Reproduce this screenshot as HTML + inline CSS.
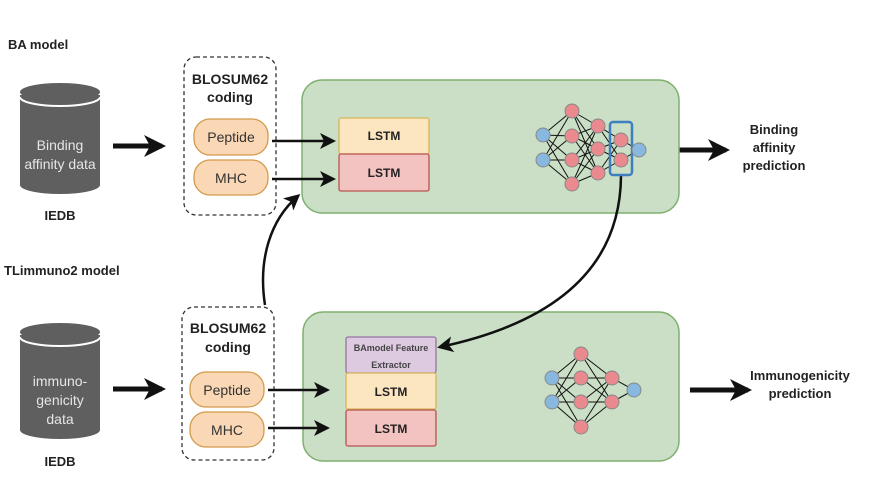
<!DOCTYPE html>
<html><head><meta charset="utf-8"><style>
html,body{margin:0;padding:0;background:#fff}
svg{display:block}
text{font-family:"Liberation Sans",sans-serif}
</style></head><body>
<svg width="875" height="478" viewBox="0 0 875 478" xmlns="http://www.w3.org/2000/svg">
<defs>
<marker id="ah" markerWidth="10" markerHeight="10" refX="7" refY="5" orient="auto" markerUnits="userSpaceOnUse"><path d="M0,0 L10,5 L0,10 L3,5 z" fill="#111"/></marker>
<marker id="ahb" markerWidth="22" markerHeight="22" refX="18" refY="11" orient="auto" markerUnits="userSpaceOnUse"><path d="M0,0 L22,11 L0,22 L6,11 z" fill="#111"/></marker>
<marker id="ahm" markerWidth="16" markerHeight="16" refX="13" refY="8" orient="auto" markerUnits="userSpaceOnUse"><path d="M0,0 L16,8 L0,16 L4,8 z" fill="#111"/></marker>
</defs>

<!-- labels -->
<text x="8" y="49" font-size="13" font-weight="bold" fill="#222">BA model</text>
<text x="4" y="275" font-size="13" font-weight="bold" fill="#222">TLimmuno2 model</text>

<!-- cylinders -->
<g fill="#5f5f5f">
<path d="M20,95 L20,185 A40,9 0 0 0 100,185 L100,95 z"/>
<ellipse cx="60" cy="92" rx="40" ry="9"/>
<path d="M20,335 L20,430 A40,9 0 0 0 100,430 L100,335 z"/>
<ellipse cx="60" cy="332" rx="40" ry="9"/>
</g>
<path d="M20,97 A40,9 0 0 0 100,97" stroke="#fff" stroke-width="2" fill="none"/>
<path d="M20,337 A40,9 0 0 0 100,337" stroke="#fff" stroke-width="2" fill="none"/>
<g fill="#e6e6e6" font-size="14" text-anchor="middle">
<text x="60" y="150">Binding</text><text x="60" y="169">affinity data</text>
<text x="60" y="386">immuno-</text><text x="60" y="405">genicity</text><text x="60" y="424">data</text>
</g>
<g font-size="13" font-weight="bold" text-anchor="middle" fill="#222">
<text x="60" y="220">IEDB</text><text x="60" y="466">IEDB</text>
</g>

<!-- big arrows -->
<g stroke="#111" stroke-width="5" fill="none">
<line x1="113" y1="146" x2="162" y2="146" marker-end="url(#ahb)"/>
<line x1="113" y1="389" x2="162" y2="389" marker-end="url(#ahb)"/>
<line x1="453" y1="154" x2="520" y2="154" marker-end="url(#ahb)"/>
<line x1="460" y1="385" x2="524" y2="385" marker-end="url(#ahb)"/>
<line x1="660" y1="150" x2="726" y2="150" marker-end="url(#ahb)"/>
<line x1="690" y1="390" x2="748" y2="390" marker-end="url(#ahb)"/>
</g>

<!-- dashed boxes -->
<rect x="184" y="57" width="92" height="158" rx="12" fill="none" stroke="#333" stroke-width="1.3" stroke-dasharray="4,3"/>
<rect x="182" y="307" width="92" height="153" rx="12" fill="none" stroke="#333" stroke-width="1.3" stroke-dasharray="4,3"/>
<g font-size="14" font-weight="bold" text-anchor="middle" fill="#222">
<text x="230" y="84">BLOSUM62</text><text x="230" y="102">coding</text>
<text x="228" y="333">BLOSUM62</text><text x="228" y="352">coding</text>
</g>
<g fill="#fad7b5" stroke="#d39a4a" stroke-width="1.3">
<rect x="194" y="119" width="74" height="36" rx="16"/>
<rect x="194" y="160" width="74" height="35" rx="16"/>
<rect x="190" y="372" width="74" height="35" rx="16"/>
<rect x="190" y="412" width="74" height="35" rx="16"/>
</g>
<g font-size="14" text-anchor="middle" fill="#333">
<text x="231" y="142">Peptide</text><text x="231" y="183">MHC</text>
<text x="227" y="395">Peptide</text><text x="227" y="435">MHC</text>
</g>

<!-- green boxes -->
<rect x="302" y="80" width="377" height="133" rx="20" fill="#cadfc5" stroke="#7fb06f" stroke-width="1.5"/>
<rect x="303" y="312" width="376" height="149" rx="20" fill="#cadfc5" stroke="#7fb06f" stroke-width="1.5"/>

<!-- small arrows -->
<g stroke="#111" stroke-width="2.5" fill="none">
<line x1="272" y1="141" x2="333" y2="141" marker-end="url(#ahm)"/>
<line x1="272" y1="179" x2="333" y2="179" marker-end="url(#ahm)"/>
<line x1="268" y1="390" x2="327" y2="390" marker-end="url(#ahm)"/>
<line x1="268" y1="428" x2="327" y2="428" marker-end="url(#ahm)"/>
<path d="M265,305 C258,260 270,220 298,196" marker-end="url(#ahm)"/>
<path d="M621,176 C620,290 520,330 440,347" marker-end="url(#ahm)"/>
</g>

<!-- LSTM boxes -->
<rect x="339" y="118" width="90" height="36" rx="2" fill="#fbe6bf" stroke="#d6b65c" stroke-width="1.3"/>
<rect x="339" y="154" width="90" height="37" rx="2" fill="#f3c3c1" stroke="#b85450" stroke-width="1.3"/>
<rect x="346" y="337" width="90" height="36" rx="2" fill="#ddc9e0" stroke="#9673a6" stroke-width="1.3"/>
<rect x="346" y="373" width="90" height="36" rx="2" fill="#fbe6bf" stroke="#d6b65c" stroke-width="1.3"/>
<rect x="346" y="410" width="90" height="36" rx="2" fill="#f3c3c1" stroke="#b85450" stroke-width="1.3"/>
<g font-size="12" font-weight="bold" text-anchor="middle" fill="#222">
<text x="384" y="140">LSTM</text><text x="384" y="177">LSTM</text>
<text x="391" y="396">LSTM</text><text x="391" y="433">LSTM</text>
</g>
<g font-size="9" font-weight="bold" text-anchor="middle" fill="#444">
<text x="391" y="351">BAmodel Feature</text><text x="391" y="368">Extractor</text>
</g>

<!-- NN top -->
<g stroke="#111" stroke-width="1">
<path d="M543,135L572,111M543,135L572,136M543,135L572,160M543,135L572,184M543,160L572,111M543,160L572,136M543,160L572,160M543,160L572,184
M572,111L598,126M572,111L598,149M572,111L598,173M572,136L598,126M572,136L598,149M572,136L598,173M572,160L598,126M572,160L598,149M572,160L598,173M572,184L598,126M572,184L598,149M572,184L598,173
M598,126L621,140M598,126L621,160M598,149L621,140M598,149L621,160M598,173L621,140M598,173L621,160M621,140L639,150M621,160L639,150"/>
<path d="M552,378L581,354M552,378L581,378M552,378L581,402M552,378L581,427M552,402L581,354M552,402L581,378M552,402L581,402M552,402L581,427
M581,354L612,378M581,354L612,402M581,378L612,378M581,378L612,402M581,402L612,378M581,402L612,402M581,427L612,378M581,427L612,402M612,378L634,390M612,402L634,390"/>
</g>
<rect x="610" y="122" width="22" height="53" rx="3" fill="none" stroke="#3d7fc0" stroke-width="2.5"/>
<g stroke="#888" stroke-width="1">
<g fill="#88b8e0"><circle cx="543" cy="135" r="7"/><circle cx="543" cy="160" r="7"/><circle cx="639" cy="150" r="7"/>
<circle cx="552" cy="378" r="7"/><circle cx="552" cy="402" r="7"/><circle cx="634" cy="390" r="7"/></g>
<g fill="#ea8a8e">
<circle cx="572" cy="111" r="7"/><circle cx="572" cy="136" r="7"/><circle cx="572" cy="160" r="7"/><circle cx="572" cy="184" r="7"/>
<circle cx="598" cy="126" r="7"/><circle cx="598" cy="149" r="7"/><circle cx="598" cy="173" r="7"/>
<circle cx="621" cy="140" r="7"/><circle cx="621" cy="160" r="7"/>
<circle cx="581" cy="354" r="7"/><circle cx="581" cy="378" r="7"/><circle cx="581" cy="402" r="7"/><circle cx="581" cy="427" r="7"/>
<circle cx="612" cy="378" r="7"/><circle cx="612" cy="402" r="7"/></g>
</g>

<g font-size="13" font-weight="bold" text-anchor="middle" fill="#222">
<text x="774" y="134">Binding</text><text x="774" y="152">affinity</text><text x="774" y="170">prediction</text>
<text x="800" y="380">Immunogenicity</text><text x="800" y="398">prediction</text>
</g>
</svg>
</body></html>
